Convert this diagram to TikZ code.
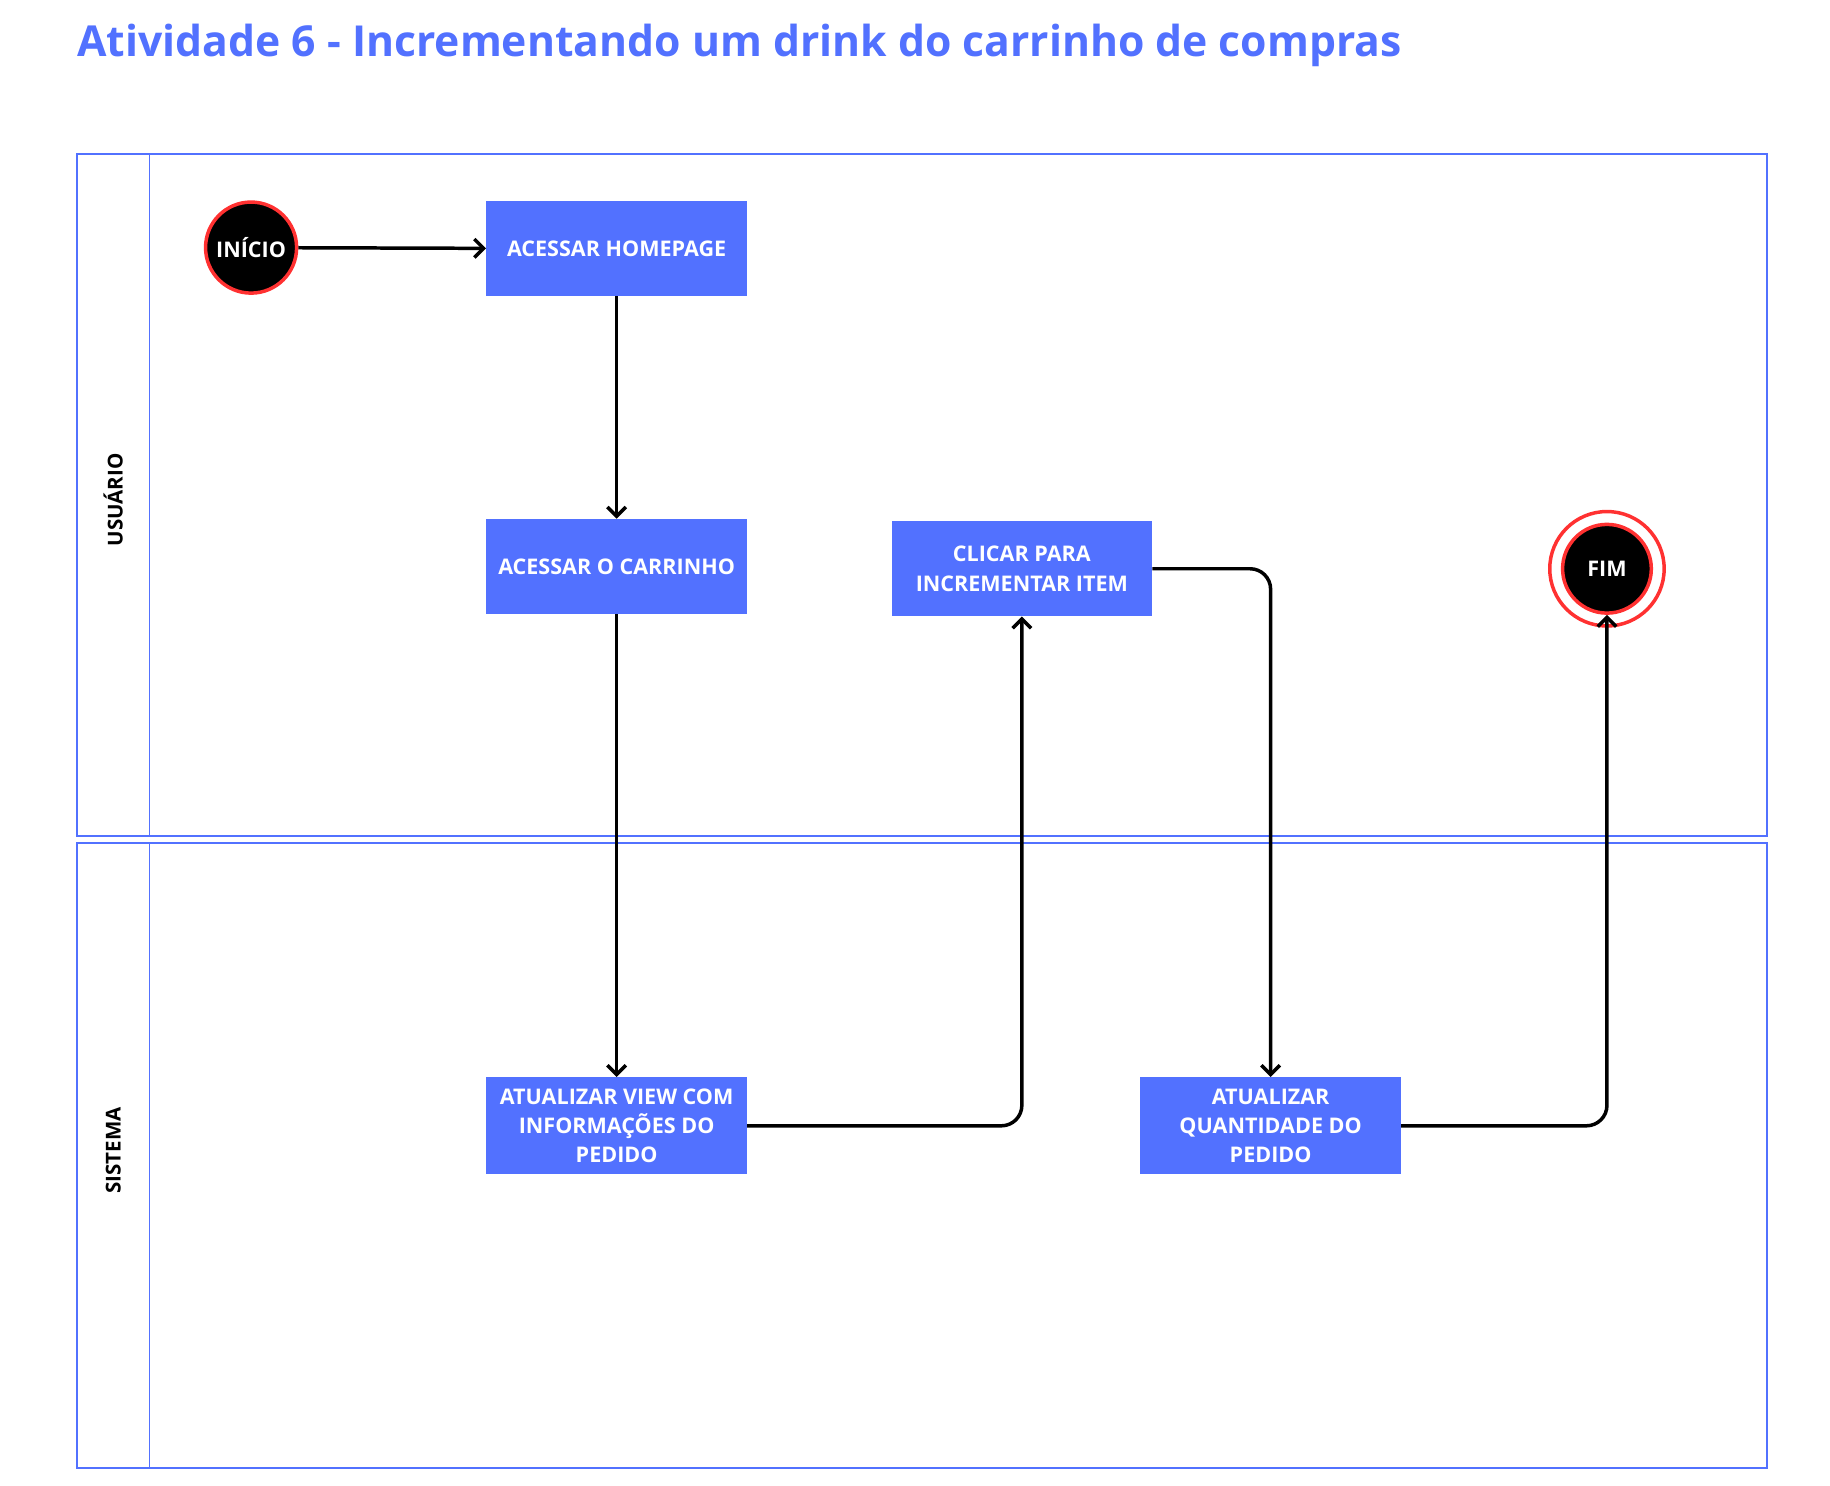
\documentclass[tikz,border=0pt]{standalone}
\usepackage{fontspec}
\setmainfont{Open Sans}
\usetikzlibrary{arrows.meta}
\definecolor{swimblue}{HTML}{5271FF}
\definecolor{swimred}{HTML}{FF3131}
\tikzset{
  task/.style={fill=swimblue, text=white, font=\bfseries\fontsize{10.5}{14.2}\selectfont,
    minimum width=4.46cm, minimum height=1.62cm, align=center, inner sep=0pt},
  terminal/.style={circle, fill=black, draw=swimred, line width=1.7pt, text=white,
    font=\bfseries\fontsize{10.5}{12}\selectfont, minimum size=1.5cm, inner sep=0pt},
  flow/.style={-{Straight Barb[length=4.5pt,width=9pt,line width=1.7pt]}, line width=1.7pt, rounded corners=10pt},
  lane/.style={draw=swimblue, line width=0.8pt},
  lanelabel/.style={rotate=90, font=\bfseries\fontsize{10}{12}\selectfont}
}
\begin{document}
\begin{tikzpicture}[x=0.02cm,y=-0.02cm]
  \useasboundingbox (0,0) rectangle (1567,1272);

  %draw title
  \node[anchor=base west, text=swimblue, font=\bfseries\fontsize{20.8}{24}\selectfont, inner sep=0pt]
    (title) at (66,48) {Atividade 6 - Incrementando um drink do carrinho de compras};

  %draw lanes
  \draw[lane] (66,132) rectangle (1513,716);
  \draw[lane] (128,132) -- (128,716);
  \draw[lane] (66,722) rectangle (1513,1257);
  \draw[lane] (128,722) -- (128,1257);
  \node[lanelabel] (usuario) at (97,428) {USUÁRIO};
  \node[lanelabel] (sistema) at (97,985) {SISTEMA};

  %draw nodes
  \node[terminal, minimum size=1.56cm] (inicio) at (215,212) {INÍCIO};
  \node[task] (homepage) at (528,213) {ACESSAR HOMEPAGE};
  \node[task] (carrinho) at (528,485) {ACESSAR O CARRINHO};
  \node[task] (clicar) at (875,487) {CLICAR PARA\\INCREMENTAR ITEM};
  \node[terminal, minimum size=1.52cm] (fim) at (1376,487) {FIM};
  \draw[swimred, line width=1.7pt] (fim) circle (0.98cm);
  \node[task, minimum height=1.66cm] (view) at (528,964) {ATUALIZAR VIEW COM\\INFORMAÇÕES DO\\PEDIDO};
  \node[task, minimum height=1.66cm] (quantidade) at (1088,964) {ATUALIZAR\\QUANTIDADE DO\\PEDIDO};

  %draw connectors
  \draw[flow] (inicio) -- (homepage);
  \draw[flow] (homepage) -- (carrinho);
  \draw[flow] (carrinho) -- (view);
  \draw[flow] (view.east) -| (clicar.south);
  \draw[flow] (clicar.east) -| (quantidade.north);
  \draw[flow] (quantidade.east) -| (fim.south);
\end{tikzpicture}
\end{document}
